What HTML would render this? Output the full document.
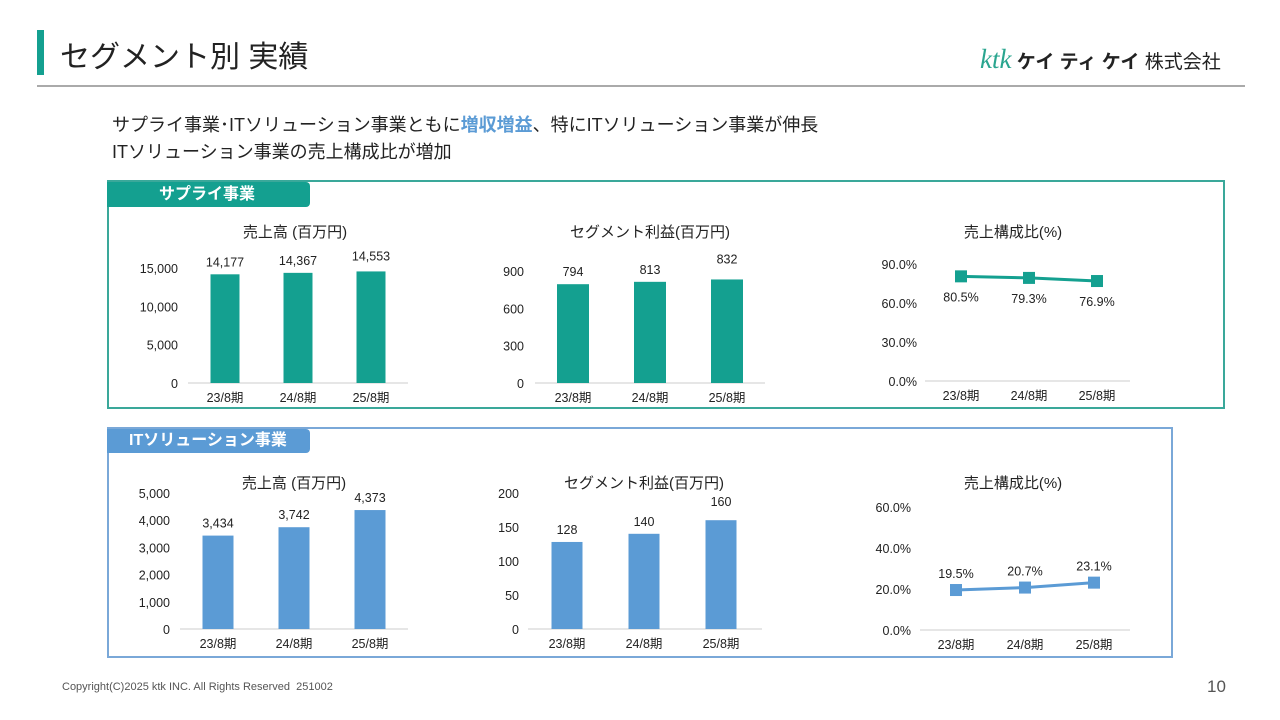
<!DOCTYPE html>
<html><head><meta charset="utf-8">
<style>
body{margin:0;width:1280px;height:720px;background:#fff;font-family:"Liberation Sans","Noto Sans CJK JP",sans-serif;overflow:hidden;position:relative}
.abs{position:absolute}
</style></head>
<body>
<div class="abs" style="left:37px;top:30px;width:7px;height:45px;background:#14a090"></div>
<div class="abs" style="left:60px;top:32px;font-size:30px;color:#222">セグメント別 実績</div>
<div class="abs" style="left:980px;top:44px;font-size:19px;color:#222;white-space:nowrap"><span style="font-family:'Liberation Serif',serif;font-style:italic;color:#2aa58f;font-size:27px">ktk</span> <b>ケイ ティ ケイ</b> 株式会社</div>
<div class="abs" style="left:37px;top:85px;width:1208px;height:2px;background:#aaa"></div>
<div class="abs" style="left:112px;top:112px;font-size:18px;line-height:27px;color:#222">サプライ事業･ITソリューション事業ともに<b style="color:#5b9bd5">増収増益</b>、特にITソリューション事業が伸長<br>ITソリューション事業の売上構成比が増加</div>
<div class="abs" style="left:107px;top:180px;width:1118px;height:229px;border:2px solid #3aa89a;box-sizing:border-box"></div>
<div class="abs" style="left:107px;top:182px;width:203px;height:25px;background:#14a090;color:#fff;font-size:16px;font-weight:bold;line-height:25px;padding-left:52px;box-sizing:border-box;border-radius:0 4px 4px 0">サプライ事業</div>
<div class="abs" style="left:107px;top:427px;width:1066px;height:231px;border:2px solid #7aa8d8;box-sizing:border-box"></div>
<div class="abs" style="left:107px;top:429px;width:203px;height:24px;background:#5b9bd5;color:#fff;font-size:16px;font-weight:bold;line-height:24px;padding-left:22px;box-sizing:border-box;border-radius:0 4px 4px 0">ITソリューション事業</div>
<div class="abs" style="left:62px;top:681px;font-size:11px;color:#555">Copyright(C)2025 ktk INC. All Rights Reserved &nbsp;251002</div>
<div class="abs" style="left:1207px;top:677px;font-size:17px;color:#555">10</div>
<svg id="c" class="abs" style="left:0;top:0" width="1280" height="720"></svg>
<script>
const categories=["23/8期","24/8期","25/8期"];
const supplySales=[14177,14367,14553];
const supplyProfit=[794,813,832];
const supplyRatio=[80.5,79.3,76.9];
const itSales=[3434,3742,4373];
const itProfit=[128,140,160];
const itRatio=[19.5,20.7,23.1];
const salesTicksS=[0,5000,10000,15000];
const profitTicksS=[0,300,600,900];
const ratioTicksS=[0,30,60,90];
const salesTicksI=[0,1000,2000,3000,4000,5000];
const profitTicksI=[0,50,100,150,200];
const ratioTicksI=[0,20,40,60];
const T="#14a090",B="#5b9bd5";
const svg=document.getElementById('c');
const NS="http://www.w3.org/2000/svg";
function el(tag,a,txt){const e=document.createElementNS(NS,tag);for(const k in a)e.setAttribute(k,a[k]);if(txt!==undefined)e.textContent=txt;svg.appendChild(e);return e;}
const fmt=v=>v.toLocaleString('en-US');
const pct=v=>v.toFixed(1)+'%';
function chart(o){
  const y=v=>o.y0-(v-o.t[0])/(o.t[o.t.length-1]-o.t[0])*(o.y0-o.y1);
  let t=el('text',{x:o.tx,y:o.ty,'text-anchor':'middle','font-size':15,fill:'#222'},o.title);
  
  
  o.t.forEach(v=>{
    const e=el('text',{x:o.lx,y:y(v)+5,'text-anchor':'end','font-size':12.5,fill:'#222'},o.f(v));
    
    
  });
  const ax=el('line',{x1:o.ax1,x2:o.ax2,y1:o.y0,y2:o.y0,stroke:'#ddd','stroke-width':1.5});
  
  
  const pts=[];
  categories.forEach((c,i)=>{
    const cx=o.xs[0]+i*(o.xs[1]-o.xs[0]);
    const e=el('text',{x:cx,y:o.y0+19,'text-anchor':'middle','font-size':12.5,fill:'#222'},c);
    
    
    const v=o.d[i],yy=y(v);
    if(o.line){
      pts.push([cx,yy]);
      const l=el('text',{x:cx,y:yy+(o.below?25:-12),'text-anchor':'middle','font-size':12.5,fill:'#222'},o.lf(v));
      
      
    }else{
      const r=el('rect',{x:cx-o.bw/2,y:yy,width:o.bw,height:o.y0-yy,fill:o.c});
      
      
      const l=el('text',{x:cx,y:yy-8-(i==2?o.lift||0:0),'text-anchor':'middle','font-size':12.5,fill:'#222'},o.lf(v));
      
      
    }
  });
  if(o.line){
    const p=el('polyline',{points:pts.map(p=>p.join(',')).join(' '),fill:'none',stroke:o.c,'stroke-width':3});
    
    
    pts.forEach(q=>{
      const m=el('rect',{x:q[0]-6,y:q[1]-6,width:12,height:12,fill:o.c});
      
      
    });
  }
}
chart({name:'supply-sales',title:'売上高 (百万円)',tx:295,ty:237,t:salesTicksS,d:supplySales,f:fmt,lf:fmt,y0:383,y1:268,lx:178,ax1:188,ax2:408,xs:[225,298],bw:29,c:T,lift:3});
chart({name:'supply-profit',title:'セグメント利益(百万円)',tx:650,ty:237,t:profitTicksS,d:supplyProfit,f:v=>String(v),lf:v=>String(v),y0:383,y1:271,lx:524,ax1:535,ax2:765,xs:[573,650],bw:32,c:T,lift:8});
chart({name:'supply-ratio',title:'売上構成比(%)',tx:1013,ty:237,t:ratioTicksS,d:supplyRatio,f:pct,lf:pct,y0:381,y1:264,lx:917,ax1:925,ax2:1130,xs:[961,1029],c:T,line:true,below:true});
chart({name:'it-sales',title:'売上高 (百万円)',tx:294,ty:488,t:salesTicksI,d:itSales,f:fmt,lf:fmt,y0:629,y1:493,lx:170,ax1:180,ax2:408,xs:[218,294],bw:31,c:B});
chart({name:'it-profit',title:'セグメント利益(百万円)',tx:644,ty:488,t:profitTicksI,d:itProfit,f:v=>String(v),lf:v=>String(v),y0:629,y1:493,lx:519,ax1:528,ax2:762,xs:[567,644],bw:31,c:B,lift:6});
chart({name:'it-ratio',title:'売上構成比(%)',tx:1013,ty:488,t:ratioTicksI,d:itRatio,f:pct,lf:pct,y0:630,y1:507,lx:911,ax1:920,ax2:1130,xs:[956,1025],c:B,line:true});
</script>
</body></html>
